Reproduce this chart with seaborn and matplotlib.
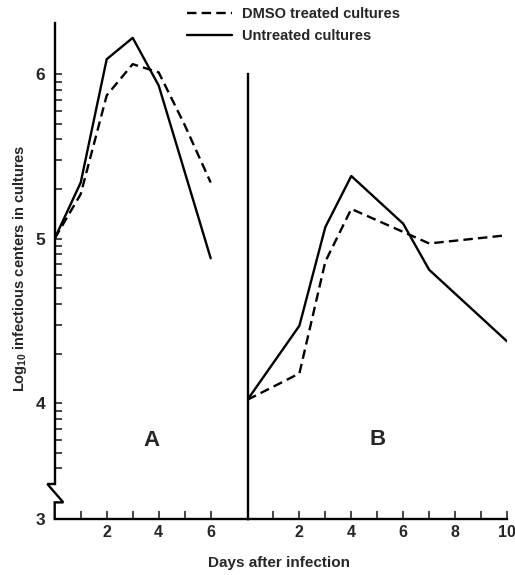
import numpy as np
import pandas as pd
import matplotlib
matplotlib.use("Agg")
import matplotlib.pyplot as plt
import matplotlib.transforms as mtrans
from matplotlib.lines import Line2D
import seaborn as sns

# ---------------- data ----------------
series_names = ["DMSO treated cultures", "Untreated cultures"]

days_A_dmso = [0, 1, 2, 3, 4, 5, 6]
vals_A_dmso = [5.0, 5.27, 5.87, 6.06, 6.01, 5.69, 5.34]
days_A_untr = [0, 1, 2, 3, 4, 6]
vals_A_untr = [5.0, 5.34, 6.09, 6.22, 5.93, 4.88]

days_B_dmso = [0, 2, 3, 4, 7, 10]
vals_B_dmso = [4.02, 4.18, 4.86, 5.18, 4.97, 5.02]
days_B_untr = [0, 2, 3, 4, 6, 7, 10]
vals_B_untr = [4.02, 4.47, 5.07, 5.38, 5.09, 4.81, 4.375]

y_tick_labels = ["3", "4", "5", "6"]
xA_tick_labels = ["2", "4", "6"]
xB_tick_labels = ["2", "4", "6", "8", "10"]
panel_labels = ["A", "B"]

# ---------------- style ----------------
sns.set_style("white")
plt.rcParams["font.family"] = ["Liberation Sans", "DejaVu Sans"]
plt.rcParams["mathtext.fontset"] = "custom"
plt.rcParams["mathtext.bf"] = "Liberation Sans:bold"
plt.rcParams["mathtext.rm"] = "Liberation Sans:bold"

LW = 1.7
DASH = (4.0, 2.2)

dfA = pd.DataFrame({
    "day": days_A_dmso + days_A_untr,
    "val": vals_A_dmso + vals_A_untr,
    "treat": [series_names[0]] * len(days_A_dmso) + [series_names[1]] * len(days_A_untr),
})
dfB = pd.DataFrame({
    "day": days_B_dmso + days_B_untr,
    "val": vals_B_dmso + vals_B_untr,
    "treat": [series_names[0]] * len(days_B_dmso) + [series_names[1]] * len(days_B_untr),
})

W, H = 515, 575
fig = plt.figure(figsize=(W / 100, H / 100), dpi=100)

y_bot, y_top = 3.295, 6.312
left_px, split_px, right_px = 54.7, 247.5, 507.0
bot_px, top_px = 519.0, 22.7

ax1 = fig.add_axes([left_px / W, 1 - bot_px / H, (split_px - left_px) / W, (bot_px - top_px) / H])
ax2 = fig.add_axes([split_px / W, 1 - bot_px / H, (right_px - split_px) / W, (bot_px - top_px) / H], sharey=ax1)

dashes = {series_names[0]: DASH, series_names[1]: ""}
for ax, df in ((ax1, dfA), (ax2, dfB)):
    sns.lineplot(data=df, x="day", y="val", style="treat", style_order=series_names,
                 dashes=dashes, color="black", linewidth=LW, ax=ax, legend=False,
                 estimator=None, sort=False)
    ax.set_xlabel("")
    ax.set_ylabel("")
    for s in ("top", "right"):
        ax.spines[s].set_visible(False)
    for s in ("left", "bottom"):
        ax.spines[s].set_linewidth(LW)
        ax.spines[s].set_color("black")

ax1.set_xlim(0, (split_px - left_px) / 26.0)
ax2.set_xlim(0, 10)
ax1.set_ylim(y_bot, y_top)

# y ticks
ax1.set_yticks([y_bot, 4, 5, 6])
ax1.set_yticklabels(y_tick_labels, fontsize=12.5, fontweight="bold")
minor_y = [e + np.log10(k) for e in (3, 4, 5) for k in range(2, 10)]
minor_y = [v for v in minor_y if 3.55 < v < y_top]
ax1.set_yticks(minor_y, minor=True)
ax1.tick_params(axis="y", which="both", direction="in", length=5, width=1.2, pad=7, left=True)

# x ticks
ax1.set_xticks([2, 4, 6])
ax1.set_xticklabels(xA_tick_labels, fontsize=11.5, fontweight="bold")
ax1.set_xticks([1, 3, 5], minor=True)
ax2.set_xticks([2, 4, 6, 8, 10])
ax2.set_xticklabels(xB_tick_labels, fontsize=11.5, fontweight="bold")
ax2.set_xticks([1, 3, 5, 7, 9], minor=True)
for ax in (ax1, ax2):
    ax.tick_params(axis="x", which="both", direction="in", length=5.5, width=1.2, pad=4, bottom=True)
ax2.tick_params(axis="y", which="both", left=False, labelleft=False)

# B panel divider only up to 6
ax2.spines["left"].set_bounds(y_bot, 6.0)

# axis break on left spine
brk_hi, brk_lo = 3.508, 3.396
ax1.spines["left"].set_bounds(brk_hi, y_top)
trans = mtrans.blended_transform_factory(ax1.transAxes, ax1.transData)
axw = split_px - left_px
xs = [0, 0, -7.4 / axw, 8.6 / axw, 0, 0]
ys = [brk_hi, brk_hi, brk_hi, brk_lo, brk_lo, y_bot]
ax1.add_line(Line2D(xs, ys, transform=trans, color="black", lw=LW, clip_on=False,
                    solid_joinstyle="miter"))

# panel letters
ax1.text(3.73, 3.775, panel_labels[0], fontsize=16, fontweight="bold", ha="center", va="center")
ax2.text(5.03, 3.78, panel_labels[1], fontsize=16, fontweight="bold", ha="center", va="center")

# axis labels
fig.text(20.5 / W, 1 - 268 / H, r"Log$_{\mathbf{10}}$ infectious centers in cultures",
         rotation=90, ha="center", va="center", fontsize=10.5, fontweight="bold")
fig.text(279 / W, 1 - 563 / H, "Days after infection", ha="center", va="center",
         fontsize=11, fontweight="bold")

# legend
handles = [Line2D([0], [0], color="black", lw=LW, dashes=DASH),
           Line2D([0], [0], color="black", lw=LW)]
fig.legend(handles, series_names, loc="upper left", bbox_to_anchor=(187 / W, 1 - 7.0 / H),
           frameon=False, prop={"size": 10.5, "weight": "bold"}, handlelength=3.1,
           handletextpad=0.65, labelspacing=0.55, borderpad=0, borderaxespad=0)

fig.savefig("out.png", dpi=100)
